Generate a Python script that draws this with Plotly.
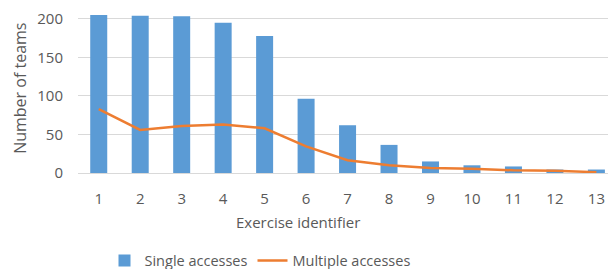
import plotly.graph_objects as go

exercises = list(range(1, 14))
single_accesses = [205, 204, 203.5, 195, 178, 96.5, 62, 36.5, 15, 10, 8.5, 4.5, 4.5]
multiple_accesses = [83, 56, 61, 63, 58, 34.5, 16.5, 10, 6.5, 5.5, 3.5, 3, 1]
y_ticks = [0, 50, 100, 150, 200]

GREY = "#595959"
FONT = "Open Sans"
L, W, AX0 = 78, 530, 173.3

fig = go.Figure()
fig.add_trace(go.Bar(
    x=exercises, y=single_accesses, name="Single accesses",
    marker=dict(color="#5B9BD5", line=dict(width=0)),
))
fig.add_trace(go.Scatter(
    x=exercises, y=multiple_accesses, name="Multiple accesses",
    mode="lines", line=dict(color="#ED7D31", width=2.5),
))

fig.update_layout(
    width=608, height=269,
    margin=dict(l=L, r=0, t=0, b=96, autoexpand=False),
    paper_bgcolor="white", plot_bgcolor="white",
    font=dict(family=FONT, color=GREY, size=15),
    bargap=0.59,
    showlegend=True,
    legend=dict(orientation="h", x=0.05, xanchor="left", y=(AX0 - 261) / AX0, yanchor="middle",
                font=dict(size=14.5, color=GREY), itemwidth=30, tracegroupgap=0),
    xaxis=dict(
        range=[0.5, 13.28], tickmode="array", tickvals=exercises,
        ticktext=[str(e) for e in exercises], automargin=False,
        showgrid=False, showline=True, linecolor="#d9d9d9", linewidth=1,
        ticks="", tickfont=dict(size=15, color=GREY), zeroline=False,
        ticklabelstandoff=12,
    ),
    yaxis=dict(
        range=[0, 224.6], tickvals=y_ticks, showgrid=True, gridcolor="#d9d9d9",
        gridwidth=1, zeroline=False, showline=False, ticks="", automargin=False,
        tickfont=dict(size=15, color=GREY), ticklabelstandoff=14,
    ),
)

fig.add_annotation(
    text="Exercise identifier", xref="paper", yref="paper",
    x=(298 - L) / W, y=(AX0 - 222) / AX0, xanchor="center", yanchor="middle",
    showarrow=False, font=dict(size=15, color=GREY, family=FONT),
)
fig.add_annotation(
    text="Number of teams", xref="paper", yref="paper", textangle=-90,
    x=(20 - L) / W, y=(AX0 - 89) / AX0, xanchor="center", yanchor="middle",
    showarrow=False, font=dict(size=16, color=GREY, family=FONT),
)

fig.write_html(
    "out.html",
    config={"displayModeBar": False},
    post_script="document.body.style.margin='0px';document.body.style.overflow='hidden';",
)
